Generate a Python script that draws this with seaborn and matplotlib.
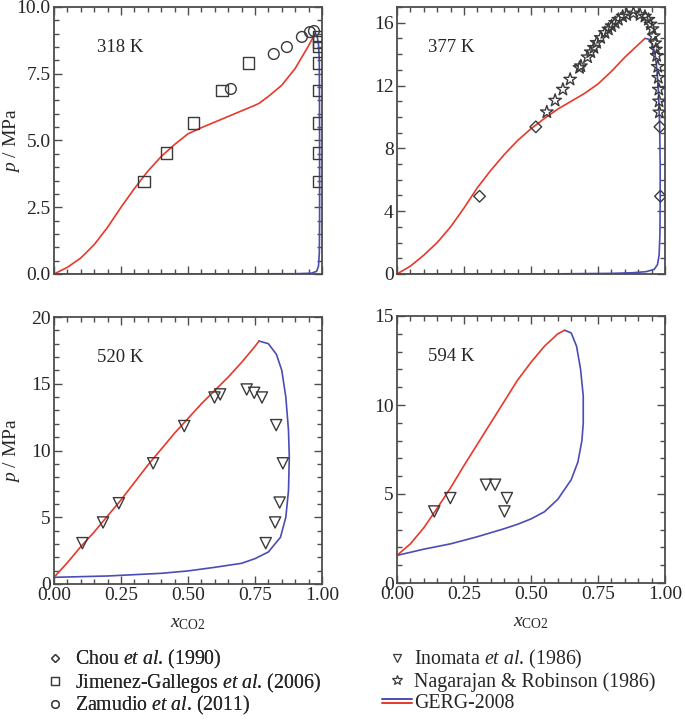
import numpy as np
import pandas as pd
import seaborn as sns
import matplotlib.pyplot as plt
import matplotlib.ticker as ticker
from matplotlib.lines import Line2D

# GERG-2008 bubble (red) and dew (blue) curves
bub318_x = [0, 0.05, 0.10, 0.15, 0.20, 0.25, 0.30, 0.35, 0.40, 0.45, 0.50, 0.55,
            0.60, 0.65, 0.70, 0.75, 0.765, 0.80, 0.85, 0.90, 0.95, 0.975]
bub318_p = [0, 0.25, 0.6, 1.1, 1.75, 2.5, 3.2, 3.85, 4.4, 4.85, 5.25, 5.48,
            5.69, 5.9, 6.11, 6.32, 6.39, 6.65, 7.07, 7.7, 8.55, 9.02]
dew318_x = [0.975, 0.982, 0.987, 0.99, 0.991, 0.991, 0.99, 0.987, 0.98, 0.96, 0.9, 0.5, 0.0]
dew318_p = [9.02, 8.9, 8.6, 8.0, 5.0, 2.0, 0.8, 0.3, 0.1, 0.03, 0.01, 0.0, 0.0]

bub377_x = [0, 0.05, 0.10, 0.15, 0.20, 0.25, 0.30, 0.35, 0.40, 0.45, 0.50, 0.55,
            0.60, 0.65, 0.70, 0.75, 0.80, 0.85, 0.90, 0.925]
bub377_p = [0, 0.5, 1.2, 2.0, 3.0, 4.2, 5.5, 6.6, 7.6, 8.5, 9.25, 9.9,
            10.5, 11.0, 11.5, 12.1, 12.9, 13.8, 14.6, 15.0]
dew377_x = [0.925, 0.94, 0.953, 0.963, 0.97, 0.976, 0.98, 0.982, 0.982, 0.981,
            0.978, 0.972, 0.96, 0.93, 0.88, 0.8, 0.6, 0.0]
dew377_p = [15.0, 14.95, 14.6, 14.0, 13.0, 11.5, 9.5, 7.0, 4.5, 2.5,
            1.2, 0.6, 0.3, 0.15, 0.08, 0.04, 0.01, 0.0]

bub520_x = [0, 0.05, 0.10, 0.15, 0.20, 0.25, 0.30, 0.35, 0.40, 0.45, 0.50,
            0.55, 0.60, 0.65, 0.70, 0.75, 0.765]
bub520_p = [0.5, 1.6, 2.8, 3.9, 5.1, 6.3, 7.6, 8.9, 10.1, 11.3, 12.4,
            13.5, 14.5, 15.5, 16.6, 17.8, 18.2]
dew520_x = [0.765, 0.8, 0.83, 0.85, 0.865, 0.875, 0.878, 0.875, 0.865, 0.845,
            0.8, 0.75, 0.7, 0.6, 0.5, 0.4, 0.3, 0.2, 0.1, 0.0]
dew520_p = [18.2, 18.0, 17.2, 16.0, 14.0, 11.5, 9.5, 7.0, 5.0, 3.5,
            2.4, 1.9, 1.55, 1.25, 0.98, 0.8, 0.7, 0.6, 0.55, 0.5]

bub594_x = [0, 0.05, 0.10, 0.15, 0.20, 0.25, 0.30, 0.35, 0.40, 0.45, 0.50, 0.55, 0.60, 0.625]
bub594_p = [1.55, 2.2, 3.1, 4.2, 5.35, 6.6, 7.8, 9.0, 10.2, 11.4, 12.4, 13.3, 14.0, 14.2]
dew594_x = [0.625, 0.65, 0.67, 0.685, 0.695, 0.695, 0.69, 0.675, 0.65, 0.6,
            0.55, 0.5, 0.45, 0.4, 0.3, 0.2, 0.1, 0.0]
dew594_p = [14.2, 14.05, 13.3, 12.0, 10.5, 9.0, 8.0, 6.8, 5.8, 4.7,
            4.0, 3.6, 3.3, 3.05, 2.6, 2.2, 1.9, 1.55]

# experimental data
jg318_x = [0.335, 0.420, 0.520, 0.626, 0.726, 0.988, 0.988, 0.988, 0.988, 0.988, 0.988, 0.988, 0.988]
jg318_p = [3.47, 4.53, 5.66, 6.87, 7.90, 3.47, 4.53, 5.66, 6.87, 7.90, 8.52, 8.70, 8.89]
zam318_x = [0.660, 0.820, 0.869, 0.925, 0.955, 0.970]
zam318_p = [6.93, 8.24, 8.50, 8.88, 9.06, 9.10]

chou377_x = [0.308, 0.518, 0.981, 0.983]
chou377_p = [4.95, 9.37, 9.37, 4.95]
nag377_x = [0.559, 0.590, 0.619, 0.646, 0.681, 0.686, 0.711, 0.723, 0.735, 0.745,
            0.760, 0.776, 0.789, 0.801, 0.814, 0.826, 0.842, 0.857, 0.882, 0.907,
            0.925, 0.938, 0.946, 0.953, 0.958, 0.963, 0.966, 0.969, 0.973, 0.975,
            0.977, 0.978, 0.979]
nag377_p = [10.31, 11.05, 11.75, 12.39, 13.13, 13.24, 13.81, 14.13, 14.41, 14.73,
            15.04, 15.36, 15.58, 15.79, 16.0, 16.2, 16.4, 16.5, 16.6, 16.5,
            16.4, 16.2, 15.9, 15.6, 15.15, 14.7, 14.3, 13.9, 13.2, 12.5,
            11.75, 11.0, 10.3]

ino520_x = [0.106, 0.183, 0.242, 0.370, 0.486, 0.599, 0.620, 0.719, 0.747, 0.776,
            0.829, 0.854, 0.842, 0.825, 0.790]
ino520_p = [3.06, 4.61, 6.05, 9.04, 11.83, 13.97, 14.2, 14.57, 14.32, 13.97,
            11.9, 9.04, 6.10, 4.61, 3.06]
ino594_x = [0.139, 0.199, 0.332, 0.366, 0.410, 0.401]
ino594_p = [4.02, 4.77, 5.52, 5.52, 4.77, 4.02]

RED = "#e8382b"
BLUE = "#4a4db5"
EDGE = "#3a3a3a"
SPINE = "#4d4d4d"

sns.set_style("ticks")
plt.rcParams["font.family"] = ["Liberation Serif", "DejaVu Serif"]
plt.rcParams["mathtext.fontset"] = "custom"
plt.rcParams["mathtext.rm"] = "Liberation Serif"
plt.rcParams["mathtext.it"] = "Liberation Serif:italic"
plt.rcParams["font.size"] = 14

fig = plt.figure(figsize=(6.85, 7.22), dpi=100)
W, H = 685, 722


def add_ax(l, t, r, b):
    return fig.add_axes([l / W, 1 - b / H, (r - l) / W, (b - t) / H])


ax1 = add_ax(54, 7, 322, 274)
ax2 = add_ax(397, 7, 665, 274)
ax3 = add_ax(54, 317, 322, 584)
ax4 = add_ax(397, 316, 665, 583)

panels = [
    (ax1, "318 K", bub318_x, bub318_p, dew318_x, dew318_p, (0, 10), 2.5, 0.5, "%.1f", 0.16),
    (ax2, "377 K", bub377_x, bub377_p, dew377_x, dew377_p, (0, 17), 4, 1, "%d", 0.116),
    (ax3, "520 K", bub520_x, bub520_p, dew520_x, dew520_p, (0, 20), 5, 1, "%d", 0.16),
    (ax4, "594 K", bub594_x, bub594_p, dew594_x, dew594_p, (0, 15), 5, 1, "%d", 0.116),
]

for ax, lab, bx, bp, dx, dp, ylim, ymaj, ymin, yfmt, tx in panels:
    sns.lineplot(x=dx, y=dp, sort=False, estimator=None, color=BLUE, lw=1.2, ax=ax)
    sns.lineplot(x=bx, y=bp, sort=False, estimator=None, color=RED, lw=1.2, ax=ax)
    ax.set_xlim(0, 1)
    ax.set_ylim(*ylim)
    ax.xaxis.set_major_locator(ticker.MultipleLocator(0.25))
    ax.xaxis.set_minor_locator(ticker.MultipleLocator(0.05))
    ax.xaxis.set_major_formatter(ticker.FormatStrFormatter("%.2f"))
    ax.yaxis.set_major_locator(ticker.MultipleLocator(ymaj))
    ax.yaxis.set_minor_locator(ticker.MultipleLocator(ymin))
    ax.yaxis.set_major_formatter(ticker.FormatStrFormatter(yfmt))
    ax.tick_params(which="both", direction="in", top=True, right=True,
                   color=SPINE, width=1.0, labelsize=14, pad=2.5)
    ax.tick_params(which="major", length=6)
    ax.tick_params(which="minor", length=3.5)
    for s in ax.spines.values():
        s.set_color(SPINE)
        s.set_linewidth(1.3)
    ax.text(tx, 0.85, lab, transform=ax.transAxes, va="center", ha="left", fontsize=13.5)
    ax.set_xlabel("")
    ax.set_ylabel("")

mk = dict(facecolor="none", edgecolor=EDGE, linewidth=1.0, zorder=5, legend=False)
sns.scatterplot(x=jg318_x, y=jg318_p, marker="s", s=70, ax=ax1, **mk)
sns.scatterplot(x=zam318_x, y=zam318_p, marker="o", s=60, ax=ax1, **mk)
sns.scatterplot(x=chou377_x, y=chou377_p, marker="D", s=35, ax=ax2, **mk)
sns.scatterplot(x=nag377_x, y=nag377_p, marker="*", s=90, ax=ax2, **mk)
sns.scatterplot(x=ino520_x, y=ino520_p, marker="v", s=65, ax=ax3, **mk)
sns.scatterplot(x=ino594_x, y=ino594_p, marker="v", s=65, ax=ax4, **mk)

for ax in (ax1, ax2):
    ax.tick_params(labelbottom=False)
for ax in (ax1, ax3):
    ax.set_ylabel("$p$ / MPa", fontsize=14)
    ax.yaxis.set_label_coords(-0.118, 0.5)
for ax in (ax3, ax4):
    ax.set_xlabel(r"$x_{\mathrm{CO2}}$", fontsize=14)
    ax.xaxis.set_label_coords(0.5, -0.115)


class MarkerHandler:
    def legend_artist(self, legend, orig_handle, fontsize, handlebox):
        x0, y0 = -handlebox.xdescent, -handlebox.ydescent
        w, h = handlebox.width, handlebox.height
        m = Line2D([x0 + w / 2], [y0 + h / 2], marker=orig_handle.get_marker(),
                   markersize=orig_handle.get_markersize(), mfc="none",
                   mec=EDGE, mew=0.9, ls="none")
        handlebox.add_artist(m)
        return m


class TwoLineHandler:
    def legend_artist(self, legend, orig_handle, fontsize, handlebox):
        x0, y0 = -handlebox.xdescent, -handlebox.ydescent
        w, h = handlebox.width, handlebox.height
        l1 = Line2D([x0, x0 + w], [y0 + h / 2 + 1.4] * 2, color=BLUE, lw=1.4)
        l2 = Line2D([x0, x0 + w], [y0 + h / 2 - 1.4] * 2, color=RED, lw=1.4)
        handlebox.add_artist(l1)
        handlebox.add_artist(l2)
        return l1


h_chou = Line2D([], [], marker="D", markersize=4.5)
h_jg = Line2D([], [], marker="s", markersize=5.5)
h_zam = Line2D([], [], marker="o", markersize=5.5)
h_ino = Line2D([], [], marker="v", markersize=6)
h_nag = Line2D([], [], marker="*", markersize=7)
h_gerg = Line2D([], [])

leg_kw = dict(frameon=False, fontsize=14.3, handlelength=1.5,
              borderpad=0, borderaxespad=0)
leg1 = fig.legend([h_chou, h_jg, h_zam],
                  [r"Chou $\mathit{et\ al}$. (1990)",
                   r"Jimenez-Gallegos $\mathit{et\ al}$. (2006)",
                   r"Zamudio $\mathit{et\ al}$. (2011)"],
                  loc="upper left", bbox_to_anchor=(40 / W, 1 - 648 / H),
                  handletextpad=0.25, labelspacing=-0.02,
                  handler_map={Line2D: MarkerHandler()}, **leg_kw)
leg2 = fig.legend([h_ino, h_nag, h_gerg],
                  [r"Inomata $\mathit{et\ al}$. (1986)",
                   "Nagarajan & Robinson (1986)",
                   "GERG-2008"],
                  loc="upper left", bbox_to_anchor=(382 / W, 1 - 648 / H),
                  handletextpad=0.1, labelspacing=0.08,
                  handler_map={h_ino: MarkerHandler(), h_nag: MarkerHandler(),
                               h_gerg: TwoLineHandler()}, **leg_kw)
fig.add_artist(leg1)

fig.savefig("out.png", dpi=100)
